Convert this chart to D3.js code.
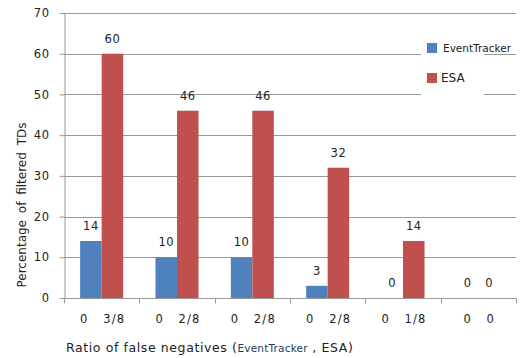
<!DOCTYPE html>
<html>
<head>
<meta charset="utf-8">
<script src="https://cdn.jsdelivr.net/npm/d3@7"></script>
<style>
  html, body { margin: 0; padding: 0; background: #fff; }
  svg { display: block; }
  text { font-family: "DejaVu Sans", Verdana, sans-serif; fill: #222; }
</style>
</head>
<body>
<svg id="chart" width="524" height="358"></svg>
<script>
// Ratio of false negatives per scenario, for each tool
const etRatio  = ["0", "0", "0", "0", "0", "0"];
const esaRatio = ["3/8", "2/8", "2/8", "2/8", "1/8", "0"];
// Percentage of filtered TDs
const eventTracker = [14, 10, 10, 3, 0, 0];
const esa          = [60, 46, 46, 32, 14, 0];
const seriesNames  = ["EventTracker", "ESA"];
const seriesColors = ["#4f81bd", "#c0504d"];
const yTicks = [0, 10, 20, 30, 40, 50, 60, 70];

const svg = d3.select("#chart");
const left = 64, right = 516;
const x0 = d3.scaleBand()
  .domain(d3.range(etRatio.length))
  .range([left, right])
  .paddingInner(0).paddingOuter(0);
const x1 = d3.scaleBand()
  .domain(seriesNames)
  .range([0, x0.bandwidth()])
  .paddingInner(0).paddingOuter(0.75);
const y = d3.scaleLinear().domain([0, 70]).range([298, 13]);
const lineCol = "#999";

// gridlines
svg.append("g")
  .selectAll("line").data(yTicks.filter(d => d > 0)).join("line")
  .attr("x1", left).attr("x2", right)
  .attr("y1", d => Math.round(y(d)) + 0.5).attr("y2", d => Math.round(y(d)) + 0.5)
  .attr("stroke", lineCol).attr("stroke-width", 1);

// bars
const rows = etRatio.map((_, i) => ({ i, values: [eventTracker[i], esa[i]] }));
const groups = svg.append("g").selectAll("g").data(rows).join("g")
  .attr("transform", d => `translate(${x0(d.i)},0)`);
groups.selectAll("rect")
  .data(d => d.values.map((v, k) => ({ v, k })))
  .join("rect")
  .attr("x", d => x1(seriesNames[d.k]))
  .attr("width", x1.bandwidth())
  .attr("y", d => y(d.v))
  .attr("height", d => y(0) - y(d.v))
  .attr("fill", d => seriesColors[d.k]);
groups.selectAll("text.val")
  .data(d => d.values.map((v, k) => ({ v, k })))
  .join("text")
  .attr("class", "val")
  .attr("x", d => x1(seriesNames[d.k]) + x1.bandwidth() / 2)
  .attr("y", d => y(d.v) - 11)
  .attr("text-anchor", "middle")
  .attr("font-size", 11.5)
  .style("letter-spacing", "0.5px")
  .text(d => d.v);

// y axis
const yAxis = svg.append("g")
  .attr("transform", `translate(${left + 0.5},0)`)
  .call(d3.axisLeft(y).tickValues(yTicks).tickSize(5).tickPadding(10).tickSizeOuter(0));
yAxis.select(".domain").attr("stroke", lineCol);
yAxis.selectAll(".tick line").attr("stroke", lineCol);
yAxis.selectAll(".tick text").attr("font-size", 11.5).attr("fill", "#333")
  .attr("font-family", "DejaVu Sans").style("letter-spacing", "0.5px");

// x axis: baseline and tick marks at category boundaries
const xAxis = svg.append("g").attr("transform", `translate(0,${Math.round(y(0)) + 0.5})`);
xAxis.append("line").attr("x1", left).attr("x2", right)
  .attr("stroke", lineCol);
const bounds = d3.range(etRatio.length + 1).map(i => i < etRatio.length ? x0(i) : x0.range()[1]);
xAxis.selectAll("line.tk").data(bounds).join("line")
  .attr("class", "tk")
  .attr("x1", d => Math.round(d) + 0.5).attr("x2", d => Math.round(d) + 0.5)
  .attr("y1", 0).attr("y2", 5)
  .attr("stroke", lineCol);
xAxis.selectAll("text.lbl").data(d3.range(etRatio.length)).join("text")
  .attr("class", "lbl")
  .attr("x", i => x0(i) + x0.bandwidth() / 2 + 1)
  .attr("y", 24)
  .attr("text-anchor", "middle")
  .attr("font-size", 11.5)
  .style("white-space", "pre")
  .style("letter-spacing", "1.2px")
  .text(i => etRatio[i] + "   " + esaRatio[i]);

// y axis title
svg.append("text")
  .attr("transform", "translate(26,205) rotate(-90)")
  .attr("text-anchor", "middle")
  .attr("font-size", 12)
  .style("word-spacing", "3px")
  .text("Percentage of filtered TDs");

// x axis title
const xt = svg.append("text")
  .attr("x", 66).attr("y", 352)
  .attr("font-size", 12.5)
  .style("white-space", "pre")
  .style("letter-spacing", "0.6px");
xt.append("tspan").text("Ratio of false negatives (");
xt.append("tspan").attr("font-size", 10.5)
  .style("letter-spacing", "0.2px")
  .style("fill", "#1f3864").text("EventTracker");
xt.append("tspan").text(" , ESA)");

// legend
const leg = svg.append("g");
leg.append("rect").attr("x", 421).attr("y", 28).attr("width", 63).attr("height", 70)
  .attr("fill", "#fff");
const legY = [43, 73];
seriesNames.forEach((name, k) => {
  leg.append("rect").attr("x", 427).attr("y", legY[k]).attr("width", 10).attr("height", 10)
    .attr("fill", seriesColors[k]);
  leg.append("text").attr("x", k === 0 ? 443 : 441).attr("y", legY[k] + 9)
    .attr("font-size", k === 0 ? 10.5 : 12)
    .text(name);
});
</script>
</body>
</html>
